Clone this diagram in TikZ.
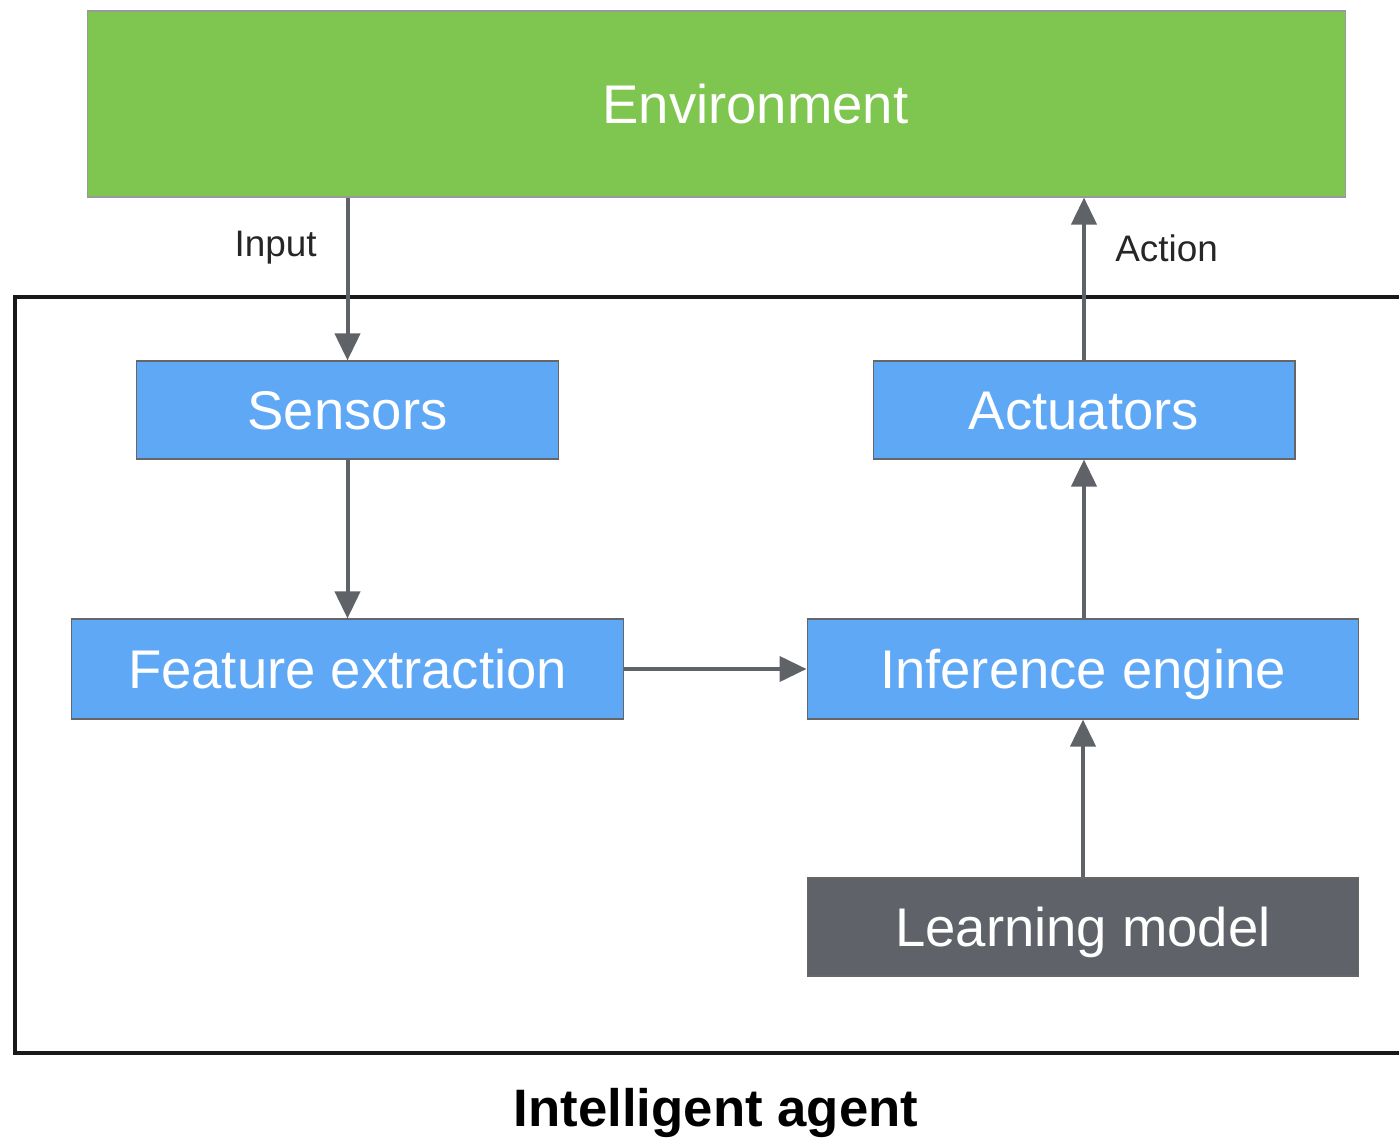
\documentclass[tikz,border=0pt]{standalone}
\usepackage{fontspec}
\setmainfont{Liberation Sans}
\usetikzlibrary{arrows.meta,positioning}
\definecolor{envgreen}{HTML}{7EC64F}
\definecolor{blockblue}{HTML}{5FA8F6}
\definecolor{modelgray}{HTML}{5F6369}
\definecolor{flowgray}{HTML}{5F6368}
\begin{document}
\begin{tikzpicture}[x=0.02cm,y=-0.02cm,%
        block/.style={draw=black!60,line width=0.6pt,fill=blockblue,text=white,
            inner sep=0pt,minimum height=1.96cm,text height=22.2pt,text depth=0pt,
            font=\fontsize{31}{36}\selectfont},
        flow/.style={draw=flowgray,line width=0.08cm,
            -{Triangle[length=0.54cm,width=0.5cm]}},
        lbl/.style={font=\fontsize{21}{25}\selectfont,text=black!85,inner sep=0pt}
    ]
    \useasboundingbox (0,0) rectangle (1399,1145);
    % environment and agent frame
    \node [block,fill=envgreen,draw=black!40,minimum width=25.18cm,minimum height=3.72cm]
        (env) at (716.5,104) {\hspace*{1.56cm}Environment};
    \draw [line width=0.08cm,black!90] (1405,297) -| (15,1053) -- (1405,1053);
    \node [font=\bfseries\fontsize{30}{36}\selectfont] (agent) at (716,1113) {Intelligent agent};
    % blocks
    \node [block,minimum width=8.46cm] (sens) at (347.5,410) {Sensors};
    \node [block,minimum width=8.44cm] (act) at (1084,410) {Actuators};
    \node [block,minimum width=11.06cm,minimum height=2cm] (feat) at (347.5,669) {Feature extraction};
    \node [block,minimum width=11.04cm,minimum height=2cm] (inf) at (1083,669) {Inference engine};
    \node [block,fill=modelgray,minimum width=11.04cm] (learn) at (1083,927) {Learning model};
    % connectors
    \draw [flow] (sens |- env.south) -- (sens.north);
    \draw [flow] (act.north) -- (act |- env.south);
    \draw [flow] (sens) -- (feat);
    \draw [flow] (feat) -- (inf);
    \draw [flow] (act |- inf.north) -- (act.south);
    \draw [flow] (learn) -- (inf);
    \node [lbl,anchor=east] (input) at (317,248) {Input};
    \node [lbl,anchor=west] (action) at (1115,248) {Action};
\end{tikzpicture}
\end{document}
